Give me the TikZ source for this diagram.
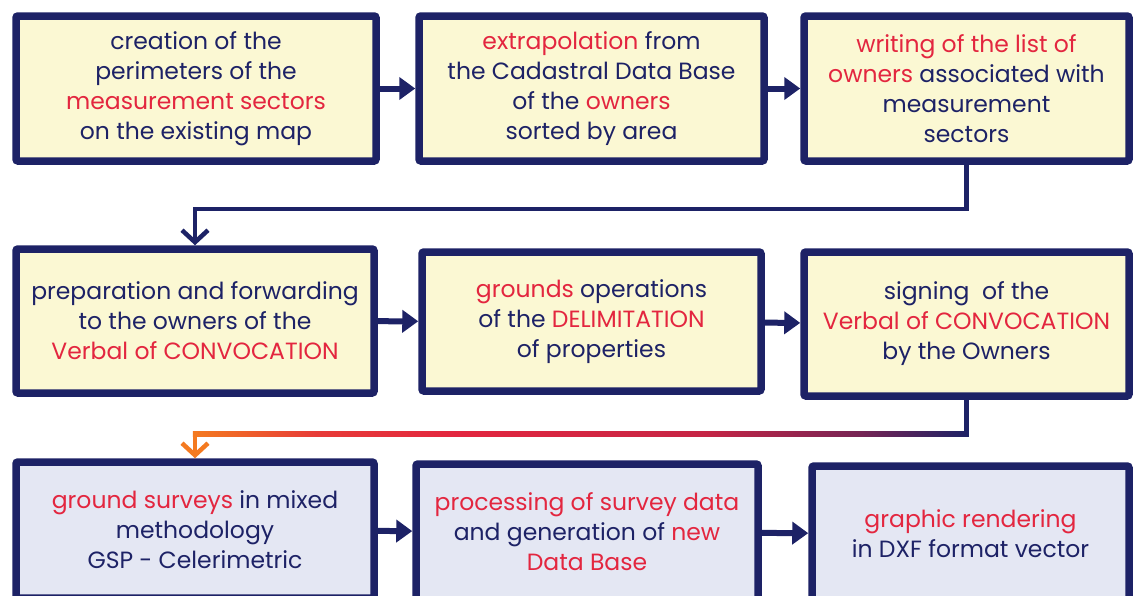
\documentclass[tikz,border=0pt]{standalone}
\usepackage{fontspec}
\setmainfont{Poppins}
\usetikzlibrary{calc,arrows.meta,positioning}
\definecolor{navyC}{HTML}{1D2266}
\definecolor{redC}{HTML}{E3263F}
\definecolor{orangeC}{HTML}{F47A20}
\definecolor{paleyellow}{HTML}{FBF8D3}
\definecolor{paleblue}{HTML}{E4E7F3}
\newcommand{\rd}[1]{\textcolor{redC}{#1}}
\pgfdeclarehorizontalshading{link_fade}{100bp}{color(0bp)=(orangeC); color(25bp)=(orangeC); color(33bp)=(redC!75!orangeC); color(42bp)=(redC); color(58bp)=(redC!85!navyC); color(68bp)=(redC!45!navyC); color(75bp)=(navyC); color(100bp)=(navyC)}

\begin{document}
\begin{tikzpicture}
    [x=1pt, y=1pt,
    step_box/.style={draw=navyC, line width=7.5pt, rounded corners=2pt, text=navyC, align=center, inner sep=0pt, font=\fontsize{23.5}{30}\selectfont},
    yellow_box/.style={step_box, fill=paleyellow},
    blue_box/.style={step_box, fill=paleblue},
    flow_arrow/.style={draw=navyC, line width=6pt, -{Triangle[length=16pt, width=22pt]}},
    turn_arrow/.style={line width=4.5pt, -{Straight Barb[length=12pt, width=26pt]}}]
    \useasboundingbox (0, 0) rectangle (1138, -595);
    % prima riga
    \node[yellow_box, minimum width=360, minimum height=145] (b1) at (196, -88.5)
        {creation of the\\perimeters of the\\\rd{measurement sectors}\\on the existing map};
    \node[yellow_box, minimum width=345, minimum height=145] (b2) at (591.5, -88.5)
        {\rd{extrapolation} from\\the Cadastral Data Base\\of the \rd{owners}\\sorted by area};
    \node[yellow_box, minimum width=325, minimum height=145] (b3) at (966.5, -88.5)
        {\rd{writing of the list of}\\\rd{owners} associated with\\measurement\\sectors};
    % seconda riga
    \node[yellow_box, minimum width=358, minimum height=144] (b4) at (195, -321)
        {preparation and forwarding\\to the owners of the\\\rd{Verbal of CONVOCATION}};
    \node[yellow_box, minimum width=339, minimum height=139] (b5) at (591.5, -321.5)
        {\rd{grounds} operations\\of the \rd{DELIMITATION}\\of properties};
    \node[yellow_box, minimum width=325, minimum height=144] (b6) at (966.5, -324)
        {signing\ \ of the\\\rd{Verbal of CONVOCATION}\\by the Owners};
    % terza riga
    \node[blue_box, minimum width=358, minimum height=136] (b7) at (195, -530)
        {\rd{ground surveys} in mixed\\methodology\\GSP - Celerimetric};
    \node[blue_box, minimum width=342, minimum height=136] (b8) at (587, -532)
        {\rd{processing of survey data}\\and generation of \rd{new}\\\rd{Data Base}};
    \node[blue_box, minimum width=317, minimum height=136] (b9) at (970.5, -534)
        {\rd{graphic rendering}\\in DXF format vector};
    % frecce orizzontali
    \draw[flow_arrow] (b1) -- (b2);
    \draw[flow_arrow] (b2) -- (b3);
    \draw[flow_arrow] (b4) -- (b5);
    \draw[flow_arrow] (b5) -- (b6);
    \draw[flow_arrow] (b7) -- (b8);
    \draw[flow_arrow] (b8) -- (b9);
    % collegamento riga 1 -> riga 2
    \draw[turn_arrow, navyC] (b3.south) -- ++(0, -44) -| (b4.north);
    % collegamento riga 2 -> riga 3 (sfumato)
    \coordinate (k1) at ($(b6.south)+(0, -34)$);
    \coordinate (k2) at (b7.north |- k1);
    \draw[navyC, line width=4.5pt] (b6.south) -- ($(k1)+(0, -2.25)$);
    \shade[shading=link_fade] ($(k2)+(-2.25, -2.25)$) rectangle ($(k1)+(2.25, 2.25)$);
    \draw[turn_arrow, orangeC] ($(k2)+(0, 2.25)$) -- (b7.north);
\end{tikzpicture}
\end{document}
